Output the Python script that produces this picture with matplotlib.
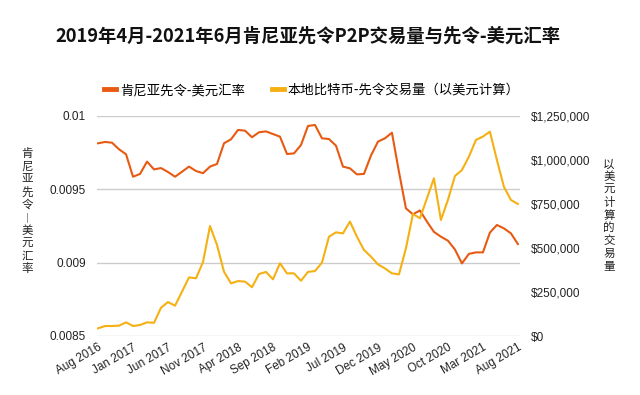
import matplotlib
matplotlib.use("Agg")
import matplotlib.pyplot as plt
from matplotlib.lines import Line2D
from matplotlib.ticker import FuncFormatter

plt.rcParams['font.family'] = ['Liberation Sans', 'Noto Sans CJK SC', 'DejaVu Sans']

months = ['Aug 2016', 'Sep 2016', 'Oct 2016', 'Nov 2016', 'Dec 2016',
          'Jan 2017', 'Feb 2017', 'Mar 2017', 'Apr 2017', 'May 2017',
          'Jun 2017', 'Jul 2017', 'Aug 2017', 'Sep 2017', 'Oct 2017',
          'Nov 2017', 'Dec 2017', 'Jan 2018', 'Feb 2018', 'Mar 2018',
          'Apr 2018', 'May 2018', 'Jun 2018', 'Jul 2018', 'Aug 2018',
          'Sep 2018', 'Oct 2018', 'Nov 2018', 'Dec 2018', 'Jan 2019',
          'Feb 2019', 'Mar 2019', 'Apr 2019', 'May 2019', 'Jun 2019',
          'Jul 2019', 'Aug 2019', 'Sep 2019', 'Oct 2019', 'Nov 2019',
          'Dec 2019', 'Jan 2020', 'Feb 2020', 'Mar 2020', 'Apr 2020',
          'May 2020', 'Jun 2020', 'Jul 2020', 'Aug 2020', 'Sep 2020',
          'Oct 2020', 'Nov 2020', 'Dec 2020', 'Jan 2021', 'Feb 2021',
          'Mar 2021', 'Apr 2021', 'May 2021', 'Jun 2021', 'Jul 2021',
          'Aug 2021']

rate = [0.009814, 0.009823, 0.009818, 0.009773, 0.009739, 0.009586, 0.009605, 0.009689, 0.009636, 0.009645,
        0.009618, 0.009586, 0.009620, 0.009655, 0.009625, 0.009610, 0.009655, 0.009673, 0.009814, 0.009841,
        0.009905, 0.009900, 0.009855, 0.009889, 0.009895, 0.009877, 0.009859, 0.009741, 0.009745, 0.009802,
        0.009932, 0.009939, 0.009848, 0.009843, 0.009798, 0.009655, 0.009643, 0.009602, 0.009605, 0.009730,
        0.009825, 0.009848, 0.009886, 0.009620, 0.009370, 0.009330, 0.009356, 0.009280, 0.009210, 0.009177,
        0.009150, 0.009090, 0.008995, 0.009060, 0.009070, 0.009070, 0.009205, 0.009257, 0.009234, 0.009200,
        0.009127]

volume = [43600, 56800, 56800, 58700, 77600, 56800, 62500, 77600, 75000, 160800,
          193000, 172000, 252000, 333000, 328000, 420000, 625000, 517000, 365000, 299000,
          312000, 309000, 277000, 352000, 364000, 322000, 413000, 356000, 356000, 314000,
          364000, 369000, 417000, 564000, 589000, 583000, 650000, 564000, 489000, 451000,
          407000, 384000, 356000, 350000, 498000, 693000, 669000, 782000, 896000, 659000,
          773000, 909000, 943000, 1019000, 1114000, 1133000, 1161000, 1000000, 848000, 773000,
          750000]

left_ticks = [0.0085, 0.009, 0.0095, 0.01]
left_labels = ['0.0085', '0.009', '0.0095', '0.01']
right_ticks = [0, 250000, 500000, 750000, 1000000, 1250000]

title = '2019年4月-2021年6月肯尼亚先令P2P交易量与先令-美元汇率'
rate_name = '肯尼亚先令-美元汇率'
vol_name = '本地比特币-先令交易量（以美元计算）'
left_label = '肯尼亚先令︱美元汇率'
right_label = '以美元计算的交易量'

orange = '#E85A12'
yellow = '#F5B013'
cjk = ['Noto Sans CJK SC', 'DejaVu Sans']

fig = plt.figure(figsize=(6.4, 3.95), dpi=100)
ax = fig.add_axes([97/640, 1-336/395, (520-97)/640, (336-116)/395])
ax2 = ax.twinx()

x = list(range(len(months)))
ax.plot(x, rate, color=orange, lw=1.5, zorder=3, solid_joinstyle='round')
ax2.plot(x, volume, color=yellow, lw=1.5, zorder=3, solid_joinstyle='round')

ax.set_ylim(0.0085, 0.01)
ax.set_yticks(left_ticks)
ax.set_yticklabels(left_labels)
ax2.set_ylim(0, 1250000)
ax2.set_yticks(right_ticks)
ax2.yaxis.set_major_formatter(FuncFormatter(lambda v, p: '${:,.0f}'.format(v)))
ax.set_xlim(-0.15, 60.3)
ax.set_xticks(x[::5])
ax.set_xticklabels(months[::5], rotation=30, ha='right', rotation_mode='anchor')

ax.grid(axis='y', color='#cccccc', lw=1.0)
ax.set_axisbelow(True)
for a in (ax, ax2):
    for s in a.spines.values():
        s.set_visible(False)
    a.tick_params(length=0, labelsize=8.5, colors='#222222')
ax.tick_params(axis='y', pad=8)
ax2.tick_params(axis='y', pad=8)
ax.tick_params(axis='x', pad=4)

fig.text(55/640, 1-36/395, title, fontsize=13.2, fontweight='bold', family=cjk,
         ha='left', va='center', color='#111111')

fig.text(27/640, 1-211/395, '\n'.join(left_label), fontsize=8.3, family=cjk,
         ha='center', va='center', linespacing=0.98, color='#222222')
fig.text(609/640, 1-215/395, '\n'.join(right_label), fontsize=8.3, family=cjk,
         ha='center', va='center', linespacing=0.98, color='#222222')

handles = [Line2D([], [], color=orange, lw=3.5), Line2D([], [], color=yellow, lw=3.5)]
leg = fig.legend(handles, [rate_name, vol_name], loc='center', bbox_to_anchor=(312/640, 1-90/395),
                 ncol=2, frameon=False, handlelength=0.9, handletextpad=0.3, columnspacing=2.0,
                 prop={'family': cjk, 'size': 9.6})

fig.savefig('out.png', dpi=100, facecolor='white')
